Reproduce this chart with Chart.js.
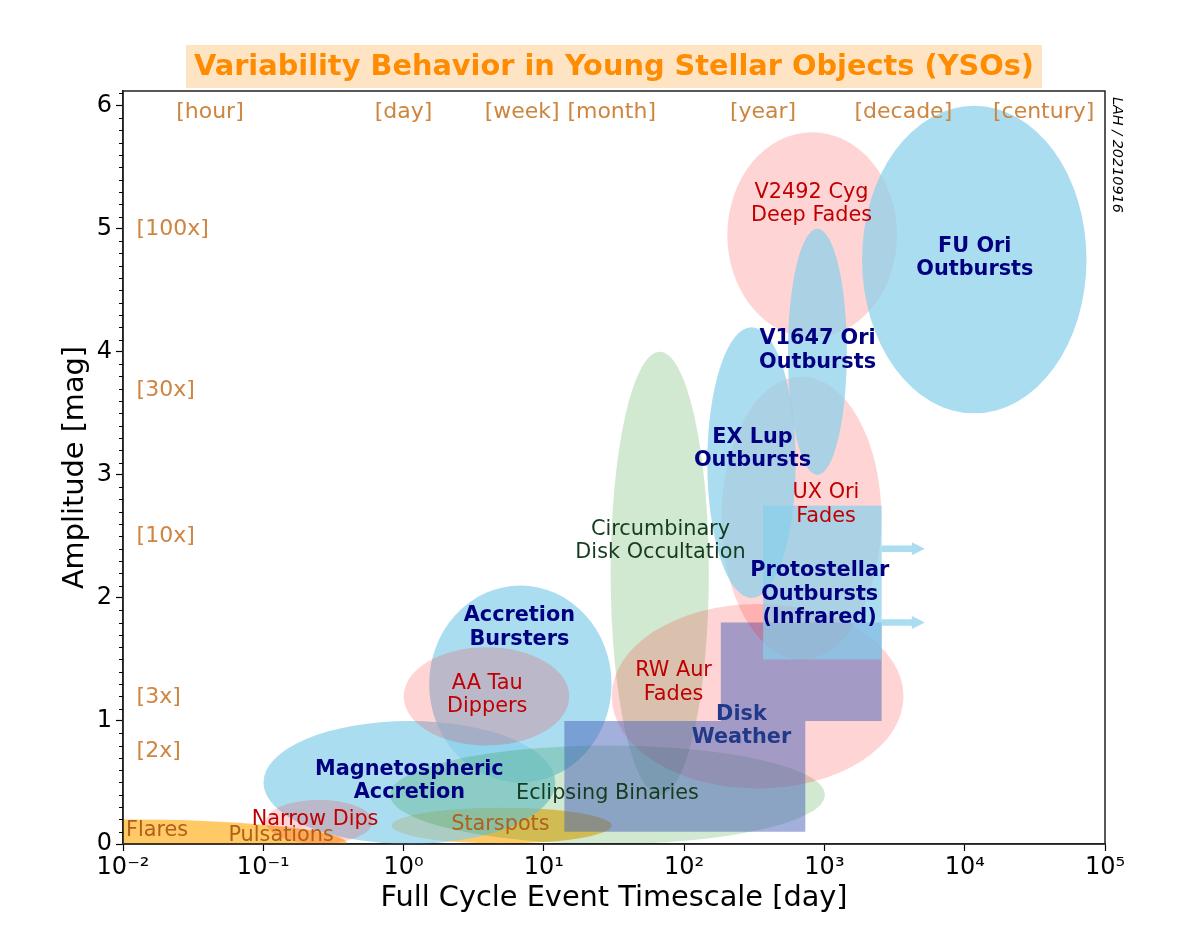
<!DOCTYPE html>
<html>
<head>
<meta charset="utf-8">
<script src="https://cdn.jsdelivr.net/npm/chart.js@4.4.1/dist/chart.umd.min.js"></script>
<style>
  html, body { margin: 0; padding: 0; background: #fff; }
  canvas { display: block; }
</style>
</head>
<body>
<canvas id="ysoChart" width="1196" height="938"></canvas>
<script>
// --- DATA (timescale in days, amplitude in mag) ---
// regions drawn as ellipses, listed in drawing order
const regionNames = ['Flares', 'Starspots', 'Magnetospheric', 'Accretion Bursters', 'Narrow Dips', 'AA Tau',
    'Eclipsing Binaries', 'Circumbinary', 'RW Aur', 'UX Ori', 'V2492 Cyg', 'EX Lup', 'V1647 Ori', 'FU Ori'];
const regionKind = ['orange', 'orange', 'blue', 'blue', 'pink', 'pink',
    'green', 'green', 'pink', 'pink', 'pink', 'blue', 'blue', 'blue'];
const regionTime = [0.01, 5.0, 1.1, 6.8, 0.25, 3.9, 28.4, 67, 334, 686, 818, 302, 891, 11700];
const regionDecades = [3.2, 1.57, 2.08, 1.3, 0.76, 1.18, 3.1, 0.7, 2.08, 1.14, 1.21, 0.63, 0.42, 1.6];
const regionAmp = [0.0, 0.15, 0.5, 1.3, 0.18, 1.2, 0.4, 2.2, 1.2, 2.65, 4.95, 3.1, 4.0, 4.75];
const regionAmpRange = [0.4, 0.29, 1.0, 1.6, 0.36, 0.8, 0.8, 3.6, 1.5, 2.3, 1.67, 2.2, 2.0, 2.5];

// disk weather outline (stepped box)
const diskWeatherTime = [14, 730.5, 730.5, 2557, 2557, 182.6, 182.6, 14];
const diskWeatherAmp = [0.1, 0.1, 1.0, 1.0, 1.8, 1.8, 1.0, 1.0];

// protostellar outbursts box + arrows
const protoTime = [365.25, 2557];
const protoAmp = [1.5, 2.75];
const arrowTime = [2557, 5200];
const arrowAmp = [2.4, 1.8];

// region labels
const labelText = ['FU Ori\nOutbursts', 'V2492 Cyg\nDeep Fades', 'V1647 Ori\nOutbursts', 'EX Lup\nOutbursts',
    'UX Ori\nFades', 'Circumbinary\nDisk Occultation', 'Protostellar\nOutbursts\n(Infrared)', 'Accretion\nBursters',
    'AA Tau\nDippers', 'RW Aur\nFades', 'Disk\nWeather', 'Magnetospheric\nAccretion', 'Eclipsing Binaries',
    'Narrow Dips', 'Pulsations', 'Flares', 'Starspots'];
const labelTime = [11800, 809, 893, 307, 1026, 67.8, 925, 6.69, 3.95, 84, 256, 1.1, 28.4, 0.234, 0.134, 0.0175, 4.9];
const labelAmp = [4.76, 5.20, 4.01, 3.21, 2.76, 2.46, 2.03, 1.76, 1.21, 1.31, 0.96, 0.51, 0.41, 0.20, 0.068, 0.108, 0.157];
const labelKind = ['outburst', 'fade', 'outburst', 'outburst', 'fade', 'occult', 'outburst', 'outburst',
    'fade', 'fade', 'weather', 'outburst', 'occult', 'fade', 'spot', 'spot', 'spot'];

// reference timescales along the top
const periodNames = ['[hour]', '[day]', '[week]', '[month]', '[year]', '[decade]', '[century]'];
const periodDays = [1 / 24, 1, 7, 30.44, 365.25, 3652.5, 36525];
const periodAmp = 5.95;

// flux ratio markers on the left
const fluxNames = ['[100x]', '[30x]', '[10x]', '[3x]', '[2x]'];
const fluxAmp = [5.0, 3.69, 2.5, 1.19, 0.75];
const fluxTime = 0.0125;

// axis ticks
const xTickValues = [1e-2, 1e-1, 1e0, 1e1, 1e2, 1e3, 1e4, 1e5];
const xTickLabels = ['10\u207B\u00B2', '10\u207B\u00B9', '10\u2070', '10\u00B9', '10\u00B2', '10\u00B3', '10\u2074', '10\u2075'];
const yTickValues = [0, 1, 2, 3, 4, 5, 6];
const yTickLabels = ['0', '1', '2', '3', '4', '5', '6'];

// --- STYLES ---
const FONT = "'DejaVu Sans', sans-serif";
const fills = {
    blue: 'rgba(135, 206, 235, 0.7)',
    pink: 'rgba(255, 0, 0, 0.17)',
    green: 'rgba(0, 128, 0, 0.18)',
    orange: 'rgba(255, 165, 0, 0.6)',
    weather: 'rgba(72, 98, 183, 0.5)'
};
const labelStyles = {
    outburst: { font: 'bold 20.8px ' + FONT, color: '#000080' },
    fade: { font: '20.8px ' + FONT, color: '#c00000' },
    occult: { font: '20.8px ' + FONT, color: '#143c1e' },
    weather: { font: 'bold 20.8px ' + FONT, color: '#22398a' },
    spot: { font: '20.8px ' + FONT, color: '#b0601a' }
};

function drawLines(ctx, text, px, py, lineH) {
    const lines = text.split('\n');
    lines.forEach((line, i) => {
        ctx.fillText(line, px, py + (i - (lines.length - 1) / 2) * lineH);
    });
}

const regionsPlugin = {
    id: 'regions',
    beforeDatasetsDraw(chart) {
        const { ctx, chartArea: a, scales: { x, y } } = chart;

        const ellipse = i => {
            const half = Math.pow(10, regionDecades[i] / 2);
            const x0 = x.getPixelForValue(regionTime[i] / half);
            const x1 = x.getPixelForValue(regionTime[i] * half);
            const y0 = y.getPixelForValue(regionAmp[i] + regionAmpRange[i] / 2);
            const y1 = y.getPixelForValue(regionAmp[i] - regionAmpRange[i] / 2);
            ctx.beginPath();
            ctx.ellipse((x0 + x1) / 2, (y0 + y1) / 2, (x1 - x0) / 2, (y1 - y0) / 2, 0, 0, 2 * Math.PI);
            ctx.fillStyle = fills[regionKind[i]];
            ctx.fill();
        };

        const diskWeather = () => {
            ctx.beginPath();
            diskWeatherTime.forEach((t, k) => {
                const px = x.getPixelForValue(t), py = y.getPixelForValue(diskWeatherAmp[k]);
                if (k === 0) ctx.moveTo(px, py); else ctx.lineTo(px, py);
            });
            ctx.closePath();
            ctx.fillStyle = fills.weather;
            ctx.fill();
        };

        const protostellar = () => {
            const x0 = x.getPixelForValue(protoTime[0]), x1 = x.getPixelForValue(protoTime[1]);
            const y0 = y.getPixelForValue(protoAmp[1]), y1 = y.getPixelForValue(protoAmp[0]);
            ctx.fillStyle = fills.blue;
            ctx.fillRect(x0, y0, x1 - x0, y1 - y0);
            // arrows pointing to longer timescales
            const xs = x.getPixelForValue(arrowTime[0]), xe = x.getPixelForValue(arrowTime[1]);
            const xh = xe - 13;
            arrowAmp.forEach(v => {
                const py = y.getPixelForValue(v);
                ctx.beginPath();
                ctx.moveTo(xs, py - 3.2);
                ctx.lineTo(xh, py - 3.2);
                ctx.lineTo(xh, py - 6.5);
                ctx.lineTo(xe, py);
                ctx.lineTo(xh, py + 6.5);
                ctx.lineTo(xh, py + 3.2);
                ctx.lineTo(xs, py + 3.2);
                ctx.closePath();
                ctx.fill();
            });
        };

        ctx.save();
        ctx.beginPath();
        ctx.rect(a.left, a.top, a.right - a.left, a.bottom - a.top);
        ctx.clip();
        regionNames.forEach((name, i) => {
            if (name === 'UX Ori') diskWeather();
            if (name === 'V1647 Ori') protostellar();
            ellipse(i);
        });
        ctx.restore();

        // labels
        ctx.save();
        ctx.textAlign = 'center';
        ctx.textBaseline = 'middle';
        labelText.forEach((txt, i) => {
            const st = labelStyles[labelKind[i]];
            ctx.font = st.font;
            ctx.fillStyle = st.color;
            drawLines(ctx, txt, x.getPixelForValue(labelTime[i]), y.getPixelForValue(labelAmp[i]), 23.5);
        });

        ctx.font = '22px ' + FONT;
        ctx.fillStyle = '#cd853f';
        periodNames.forEach((p, i) => {
            ctx.fillText(p, x.getPixelForValue(periodDays[i]), y.getPixelForValue(periodAmp));
        });
        ctx.textAlign = 'left';
        fluxNames.forEach((f, i) => {
            ctx.fillText(f, x.getPixelForValue(fluxTime), y.getPixelForValue(fluxAmp[i]));
        });
        ctx.restore();
    },
    afterDraw(chart) {
        const { ctx, chartArea: a, scales: { y } } = chart;
        ctx.save();
        // frame
        ctx.strokeStyle = '#222';
        ctx.lineWidth = 1.5;
        ctx.strokeRect(a.left, a.top, a.right - a.left, a.bottom - a.top);

        // minor ticks on amplitude axis
        ctx.lineWidth = 1;
        ctx.strokeStyle = '#000';
        for (let k = 1; k <= 61; k++) {
            if (k % 10 === 0) continue;
            const py = Math.round(y.getPixelForValue(k / 10)) + 0.5;
            ctx.beginPath();
            ctx.moveTo(a.left - 4, py);
            ctx.lineTo(a.left, py);
            ctx.stroke();
        }

        // title with shaded box
        const title = 'Variability Behavior in Young Stellar Objects (YSOs)';
        ctx.font = 'bold 28.8px ' + FONT;
        const w = ctx.measureText(title).width;
        const cx = (a.left + a.right) / 2, cy = 66.5;
        ctx.fillStyle = '#ffe4c4';
        ctx.fillRect(cx - w / 2 - 8, cy - 21.5, w + 16, 43);
        ctx.fillStyle = '#ff8c00';
        ctx.textAlign = 'center';
        ctx.textBaseline = 'middle';
        ctx.fillText(title, cx, cy + 1);

        // signature
        ctx.translate(a.right + 12, a.top + 6);
        ctx.rotate(Math.PI / 2);
        ctx.font = 'italic 14.4px ' + FONT;
        ctx.fillStyle = '#000';
        ctx.textAlign = 'left';
        ctx.fillText('LAH / 20210916', 0, 0);
        ctx.restore();
    }
};

const ctx = document.getElementById('ysoChart').getContext('2d');
new Chart(ctx, {
    type: 'scatter',
    data: { datasets: [{ data: [], pointRadius: 0 }] },
    options: {
        responsive: false,
        animation: false,
        devicePixelRatio: 1,
        layout: { padding: { left: 0, top: 91, right: 91, bottom: 0 } },
        plugins: { legend: { display: false }, tooltip: { enabled: false } },
        scales: {
            x: {
                type: 'logarithmic',
                min: 1e-2,
                max: 1e5,
                afterBuildTicks: s => { s.ticks = xTickValues.map(v => ({ value: v })); },
                afterFit: s => { s.height = 94; },
                ticks: {
                    callback: (v, i) => xTickLabels[i],
                    font: { family: FONT, size: 24 },
                    color: '#000',
                    padding: 2,
                    maxRotation: 0,
                    autoSkip: false
                },
                grid: { drawOnChartArea: false, tickLength: 7, color: '#000', tickWidth: 1.2 },
                border: { color: '#222', width: 1.5 },
                title: {
                    display: true,
                    text: 'Full Cycle Event Timescale [day]',
                    font: { family: FONT, size: 28.8 },
                    color: '#000',
                    padding: { top: 0, bottom: 22 }
                }
            },
            y: {
                min: 0,
                max: 6.12,
                afterBuildTicks: s => { s.ticks = yTickValues.map(v => ({ value: v })); },
                afterFit: s => { s.width = 123; },
                ticks: {
                    callback: (v, i) => yTickLabels[i],
                    font: { family: FONT, size: 24 },
                    color: '#000',
                    padding: 4
                },
                grid: { drawOnChartArea: false, tickLength: 7, color: '#000', tickWidth: 1.2 },
                border: { color: '#222', width: 1.5 },
                title: {
                    display: true,
                    text: 'Amplitude [mag]',
                    font: { family: FONT, size: 28.8 },
                    color: '#000',
                    padding: { top: 58, bottom: 0 }
                }
            }
        }
    },
    plugins: [regionsPlugin]
});
</script>
</body>
</html>
